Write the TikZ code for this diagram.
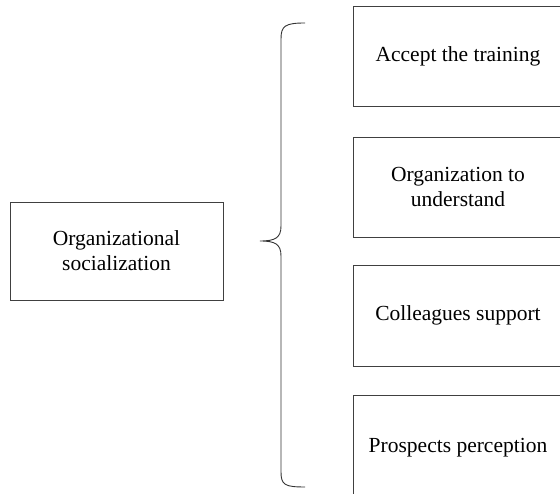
\documentclass[tikz,border=0pt]{standalone}
\usepackage{fontspec}
\setmainfont{Liberation Serif}
\begin{document}
\begin{tikzpicture}[x=1pt,y=1pt,
  box/.style={draw=black!75,line width=0.9pt,inner sep=0pt,align=center,font=\fontsize{21.5}{25}\selectfont},
  bracestyle/.style={draw=black!80,line width=0.9pt}]
\useasboundingbox (0,0) rectangle (560,494);
\clip (0,0) rectangle (560,494);
\node[box,minimum width=213pt,minimum height=98pt] (org) at (116.5,243) {Organizational\\socialization};
\node[box,minimum width=210pt,minimum height=100pt] (b1) at (458,438) {Accept the training};
\node[box,minimum width=210pt,minimum height=100pt] (b2) at (458,307) {Organization to\\understand};
\node[box,minimum width=210pt,minimum height=101pt] (b3) at (458,178.5) {Colleagues support};
\node[box,minimum width=210pt,minimum height=105pt] (b4) at (458,46.5) {Prospects perception};
\draw[bracestyle] (305,471) .. controls (285,471) and (281,468) .. (281,455) -- (281,268)
  .. controls (281,256) and (275,253) .. (260,253)
  .. controls (275,253) and (281,250) .. (281,238) -- (281,22)
  .. controls (281,9) and (285,7) .. (305,7);
\end{tikzpicture}
\end{document}
